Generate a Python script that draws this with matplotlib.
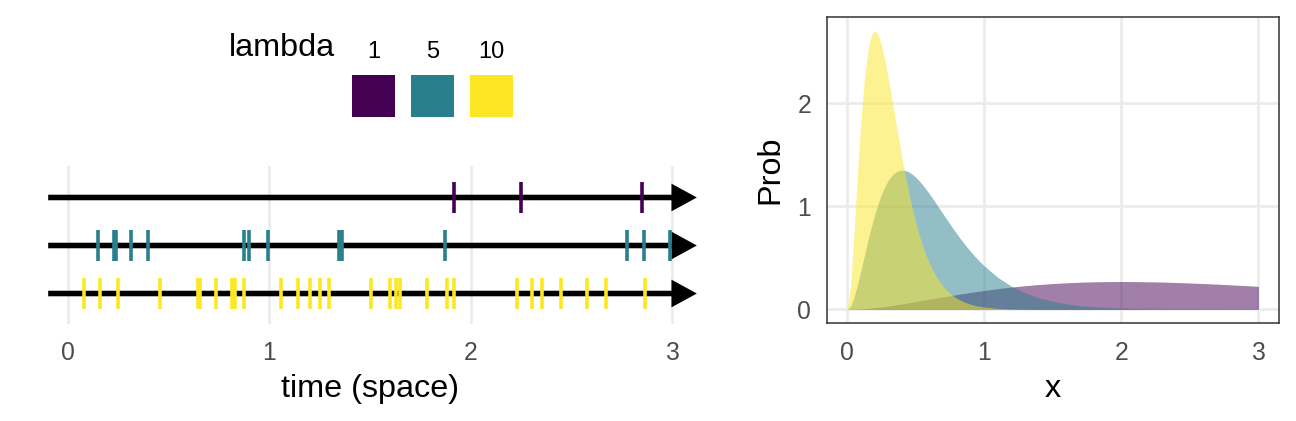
import matplotlib
matplotlib.use("Agg")
import matplotlib.pyplot as plt
from matplotlib.patches import Rectangle

plt.rcParams['font.family'] = ['Liberation Sans', 'DejaVu Sans']

# ---------------- data ----------------
lambda_labels = ['1', '5', '10']
lambda_colors = ['#440154', '#2A7F8C', '#FDE725']

events_lambda1 = [1.916, 2.250, 2.853]
events_lambda5 = [0.147, 0.229, 0.236, 0.311, 0.395, 0.872, 0.898, 0.993,
                  1.345, 1.360, 1.873, 2.777, 2.861, 2.994]
events_lambda10 = [0.076, 0.156, 0.246, 0.454, 0.644, 0.654, 0.733, 0.813,
                   0.828, 0.873, 1.056, 1.141, 1.200, 1.250, 1.296, 1.504,
                   1.599, 1.628, 1.649, 1.782, 1.883, 1.916, 2.230, 2.304,
                   2.354, 2.449, 2.579, 2.672, 2.866]

timeline_start = -0.1
timeline_end = 3.125

x_vals = [0.0, 0.025, 0.05, 0.075, 0.1, 0.125, 0.15, 0.175, 0.2, 0.225, 0.25,
          0.275, 0.3, 0.325, 0.35, 0.375, 0.4, 0.425, 0.45, 0.475, 0.5,
          0.525, 0.55, 0.575, 0.6, 0.625, 0.65, 0.675, 0.7, 0.725, 0.75,
          0.775, 0.8, 0.825, 0.85, 0.875, 0.9, 0.925, 0.95, 0.975, 1.0,
          1.1, 1.2, 1.3, 1.4, 1.5, 1.6, 1.7, 1.8, 1.9, 2.0,
          2.1, 2.2, 2.3, 2.4, 2.5, 2.6, 2.7, 2.8, 2.9, 3.0]
prob_lambda1 = [0.0, 0.0003, 0.0012, 0.0026, 0.0045, 0.0069, 0.0097, 0.0129,
                0.0164, 0.0202, 0.0243, 0.0287, 0.0333, 0.0382, 0.0432, 0.0483,
                0.0536, 0.0590, 0.0646, 0.0702, 0.0758, 0.0815, 0.0873, 0.0930,
                0.0988, 0.1046, 0.1103, 0.1160, 0.1217, 0.1273, 0.1329, 0.1384,
                0.1438, 0.1491, 0.1544, 0.1596, 0.1647, 0.1697, 0.1745, 0.1793,
                0.1839, 0.2014, 0.2169, 0.2303, 0.2417, 0.2510, 0.2584, 0.2640,
                0.2678, 0.2700, 0.2707, 0.2701, 0.2681, 0.2652, 0.2613, 0.2565,
                0.2510, 0.2450, 0.2384, 0.2314, 0.2240]
prob_lambda5 = [0.0, 0.0345, 0.1217, 0.2416, 0.3791, 0.5227, 0.6643, 0.798,
                0.920, 1.027, 1.119, 1.195, 1.255, 1.300, 1.331, 1.348,
                1.353, 1.348, 1.334, 1.312, 1.283, 1.248, 1.209, 1.166,
                1.120, 1.073, 1.024, 0.974, 0.925, 0.876, 0.827, 0.779,
                0.733, 0.687, 0.644, 0.602, 0.562, 0.524, 0.488, 0.454,
                0.421, 0.309, 0.223, 0.159, 0.112, 0.0778, 0.0537, 0.0368,
                0.0250, 0.0169, 0.0114, 0.0076, 0.0051, 0.0033, 0.0022, 0.0015,
                0.0010, 0.0006, 0.0004, 0.0003, 0.0002]
prob_lambda10 = [0.0, 0.2434, 0.758, 1.3286, 1.839, 2.238, 2.510, 2.661,
                 2.707, 2.668, 2.565, 2.417, 2.240, 2.048, 1.850, 1.654,
                 1.465, 1.288, 1.125, 0.976, 0.842, 0.723, 0.618, 0.526,
                 0.446, 0.377, 0.318, 0.267, 0.223, 0.187, 0.156, 0.129,
                 0.107, 0.0889, 0.0735, 0.0607, 0.0500, 0.0411, 0.0338, 0.0277,
                 0.0227, 0.0101, 0.0044, 0.0019, 0.0008, 0.0003, 0.0001, 0.0,
                 0.0, 0.0, 0.0, 0.0, 0.0, 0.0, 0.0, 0.0,
                 0.0, 0.0, 0.0, 0.0, 0.0]

x_ticks = [0, 1, 2, 3]
y_ticks = [0, 1, 2]

# ---------------- layout helpers ----------------
W, H = 1296, 421
fig = plt.figure(figsize=(W / 100, H / 100), dpi=100)


def px_axes(left, top, right, bottom):
    return fig.add_axes([left / W, 1 - bottom / H, (right - left) / W, (bottom - top) / H])


def fy(py):
    return 1 - py / H


TICK_COLOR = '#4D4D4D'
GRID_COLOR = '#EBEBEB'
TICK_SIZE = 17.8
TITLE_SIZE = 23.3
LEGEND_LABEL_SIZE = 17

# ---------------- left panel: timelines ----------------
ax1 = px_axes(16, 166, 724, 324)
ax1.set_xlim(-0.26, 3.26)
ax1.set_ylim(0.365, 3.656)
ax1.set_xticks(x_ticks)
ax1.set_yticks([])
ax1.grid(axis='x', color=GRID_COLOR, lw=1.9)
ax1.set_axisbelow(True)
for s in ax1.spines.values():
    s.set_visible(False)
ax1.tick_params(axis='x', length=0, pad=12.5, labelsize=TICK_SIZE, labelcolor=TICK_COLOR)

all_events = [events_lambda1, events_lambda5, events_lambda10]
row_y = [3, 2, 1]
for ev, yy, col in zip(all_events, row_y, lambda_colors):
    ax1.annotate('', xy=(timeline_end, yy), xytext=(timeline_start, yy),
                 arrowprops=dict(arrowstyle='-|>,head_length=0.55,head_width=0.3',
                                 mutation_scale=22, lw=4, color='black',
                                 shrinkA=0, shrinkB=0, joinstyle='miter',
                                 capstyle='butt'), zorder=2)
    ax1.vlines(ev, yy - 0.33, yy + 0.33, colors=col, lw=2.6, zorder=3)

fig.text(370 / W, fy(397), 'time (space)', ha='center', va='baseline',
         fontsize=TITLE_SIZE, color='black')

# legend
fig.text(229 / W, fy(56), 'lambda', ha='left', va='baseline', fontsize=TITLE_SIZE)
key_left = [352.3, 411.2, 470.1]
for lab, col, kl in zip(lambda_labels, lambda_colors, key_left):
    fig.patches.append(Rectangle((kl / W, fy(116.7)), 42.7 / W, 41.7 / H,
                                 transform=fig.transFigure, facecolor=col,
                                 edgecolor='none'))
    fig.text((kl + 21.35) / W, fy(57.5), lab, ha='center', va='baseline',
             fontsize=LEGEND_LABEL_SIZE)

# ---------------- right panel: densities ----------------
ax2 = px_axes(826.7, 16.7, 1279, 323.3)
ax2.set_xlim(-0.15, 3.15)
ax2.set_ylim(-0.135, 2.842)
for probs, col in zip([prob_lambda1, prob_lambda5, prob_lambda10], lambda_colors):
    ax2.fill_between(x_vals, 0, probs, color=col, alpha=0.5, lw=0, zorder=2)
ax2.set_xticks(x_ticks)
ax2.set_yticks(y_ticks)
ax2.grid(True, color=GRID_COLOR, lw=1.9, zorder=0)
ax2.set_axisbelow(True)
for s in ax2.spines.values():
    s.set_color('#333333')
    s.set_linewidth(1.1)
ax2.tick_params(axis='both', length=0, labelsize=TICK_SIZE, labelcolor=TICK_COLOR)
ax2.tick_params(axis='x', pad=12.5)
ax2.tick_params(axis='y', pad=11.3)

fig.text(1053 / W, fy(397), 'x', ha='center', va='baseline', fontsize=TITLE_SIZE)
fig.text(770 / W, fy(170), 'Prob', ha='center', va='center', rotation=90,
         fontsize=TITLE_SIZE)

fig.savefig('out.png', dpi=100)
